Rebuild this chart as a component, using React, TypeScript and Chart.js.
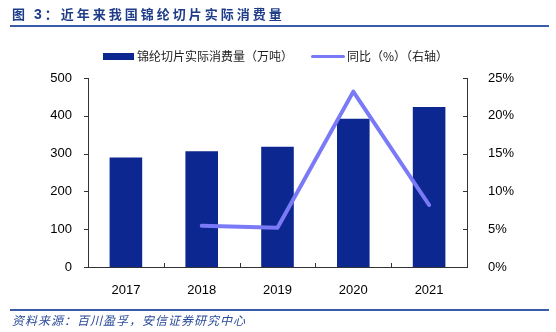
import React, { useEffect, useRef } from "react";
import { Chart, registerables } from "chart.js";

Chart.register(...registerables);

const categories = ["2017", "2018", "2019", "2020", "2021"];
const consumption = [290, 306, 318, 392, 423];
const yoy = [null, 5.45, 5.2, 23.2, 8.2];
const leftTicks = [0, 100, 200, 300, 400, 500];
const rightTicks = [0, 5, 10, 15, 20, 25];

const BAR_COLOR = "#0C278F";
const LINE_COLOR = "#7A7AF7";
const AXIS_COLOR = "#333333";

const tickPlugin = {
  id: "customTicks",
  afterDraw(chart: any) {
    const { ctx, chartArea } = chart;
    const y = chart.scales.y;
    const x = chart.scales.x;
    ctx.save();
    ctx.strokeStyle = AXIS_COLOR;
    ctx.lineWidth = 1;
    ctx.beginPath();
    leftTicks.forEach((v) => {
      const py = Math.round(y.getPixelForValue(v)) + 0.5;
      ctx.moveTo(chartArea.left - 4, py);
      ctx.lineTo(chartArea.left, py);
    });
    rightTicks.forEach((v) => {
      const py = Math.round(chart.scales.y1.getPixelForValue(v)) + 0.5;
      ctx.moveTo(chartArea.right - 4, py);
      ctx.lineTo(chartArea.right, py);
    });
    for (let i = 1; i < categories.length; i++) {
      const px = Math.round((x.getPixelForValue(i - 1) + x.getPixelForValue(i)) / 2) + 0.5;
      ctx.moveTo(px, chartArea.bottom - 4);
      ctx.lineTo(px, chartArea.bottom);
    }
    ctx.stroke();
    ctx.restore();
  },
};

export default function App() {
  const ref = useRef<HTMLCanvasElement | null>(null);

  useEffect(() => {
    if (!ref.current) return;
    const tickFont = { family: "'Liberation Sans', Arial, sans-serif", size: 13 };
    const chart = new Chart(ref.current, {
      type: "bar",
      data: {
        labels: categories,
        datasets: [
          {
            type: "line",
            label: "同比（%）（右轴）",
            data: yoy,
            yAxisID: "y1",
            borderColor: LINE_COLOR,
            backgroundColor: LINE_COLOR,
            borderWidth: 4,
            pointRadius: 0,
            tension: 0,
            borderCapStyle: "round",
            borderJoinStyle: "round",
            order: 0,
          } as any,
          {
            type: "bar",
            label: "锦纶切片实际消费量（万吨）",
            data: consumption,
            yAxisID: "y",
            backgroundColor: BAR_COLOR,
            borderWidth: 0,
            barPercentage: 0.43,
            categoryPercentage: 1,
            order: 1,
          },
        ],
      },
      options: {
        animation: false,
        responsive: false,
        layout: { padding: { top: 78, bottom: 0, left: 0, right: 0 } },
        plugins: {
          legend: { display: false },
          tooltip: { enabled: false },
        },
        scales: {
          x: {
            grid: { display: false },
            border: { display: true, color: AXIS_COLOR, width: 1 },
            ticks: { color: "#000", font: tickFont, padding: 8, maxRotation: 0 },
            afterFit: (s: any) => {
              s.height = 65;
            },
          },
          y: {
            position: "left",
            min: 0,
            max: 500,
            grid: { display: false },
            border: { display: true, color: AXIS_COLOR, width: 1 },
            ticks: { color: "#000", font: tickFont, stepSize: 100, padding: 8 },
            afterFit: (s: any) => {
              s.width = 88;
            },
          },
          y1: {
            position: "right",
            min: 0,
            max: 25,
            grid: { display: false },
            border: { display: true, color: AXIS_COLOR, width: 1 },
            ticks: {
              color: "#000",
              font: tickFont,
              stepSize: 5,
              padding: 13,
              callback: (v: any) => v + "%",
            },
            afterFit: (s: any) => {
              s.width = 89;
            },
          },
        },
      },
      plugins: [tickPlugin],
    });
    return () => chart.destroy();
  }, []);

  const cjk = "'Noto Sans CJK SC', 'Noto Sans', sans-serif";

  return (
    <div style={{ position: "absolute", left: 0, top: 0, width: 556, height: 332, background: "#fff", overflow: "hidden" }}>
      <canvas ref={ref} width={556} height={332} style={{ position: "absolute", left: 0, top: 0, width: 556, height: 332 }} />
      <div
        style={{
          position: "absolute",
          left: 12,
          top: 4,
          fontFamily: cjk,
          fontWeight: 700,
          fontSize: 13,
          letterSpacing: 3,
          color: "#1F3C88",
          whiteSpace: "nowrap",
          lineHeight: "20px",
        }}
      >
        图 <span style={{ fontFamily: "'Liberation Sans', Arial, sans-serif", fontSize: 14 }}>3</span>：近年来我国锦纶切片实际消费量
      </div>
      <div style={{ position: "absolute", left: 10, top: 25, width: 539, height: 2, background: "#3A5BA8" }} />
      <div style={{ position: "absolute", left: 103, top: 53, width: 31, height: 7, background: BAR_COLOR }} />
      <div
        style={{
          position: "absolute",
          left: 137,
          top: 48,
          fontFamily: cjk,
          fontSize: 12,
          color: "#222",
          whiteSpace: "nowrap",
          lineHeight: "16px",
        }}
      >
        锦纶切片实际消费量（万吨）
      </div>
      <div style={{ position: "absolute", left: 311, top: 55, width: 34, height: 3, background: LINE_COLOR, borderRadius: 2 }} />
      <div
        style={{
          position: "absolute",
          left: 347,
          top: 48,
          fontFamily: cjk,
          fontSize: 12,
          color: "#222",
          whiteSpace: "nowrap",
          lineHeight: "16px",
        }}
      >
        同比（%）（右轴）
      </div>
      <div style={{ position: "absolute", left: 10, top: 309, width: 539, height: 2, background: "#3A5BA8" }} />
      <div
        style={{
          position: "absolute",
          left: 12,
          top: 312,
          fontFamily: cjk,
          fontStyle: "italic",
          fontSize: 12,
          letterSpacing: 1,
          color: "#2A4A9A",
          whiteSpace: "nowrap",
          lineHeight: "16px",
        }}
      >
        资料来源：百川盈孚，安信证券研究中心
      </div>
    </div>
  );
}
